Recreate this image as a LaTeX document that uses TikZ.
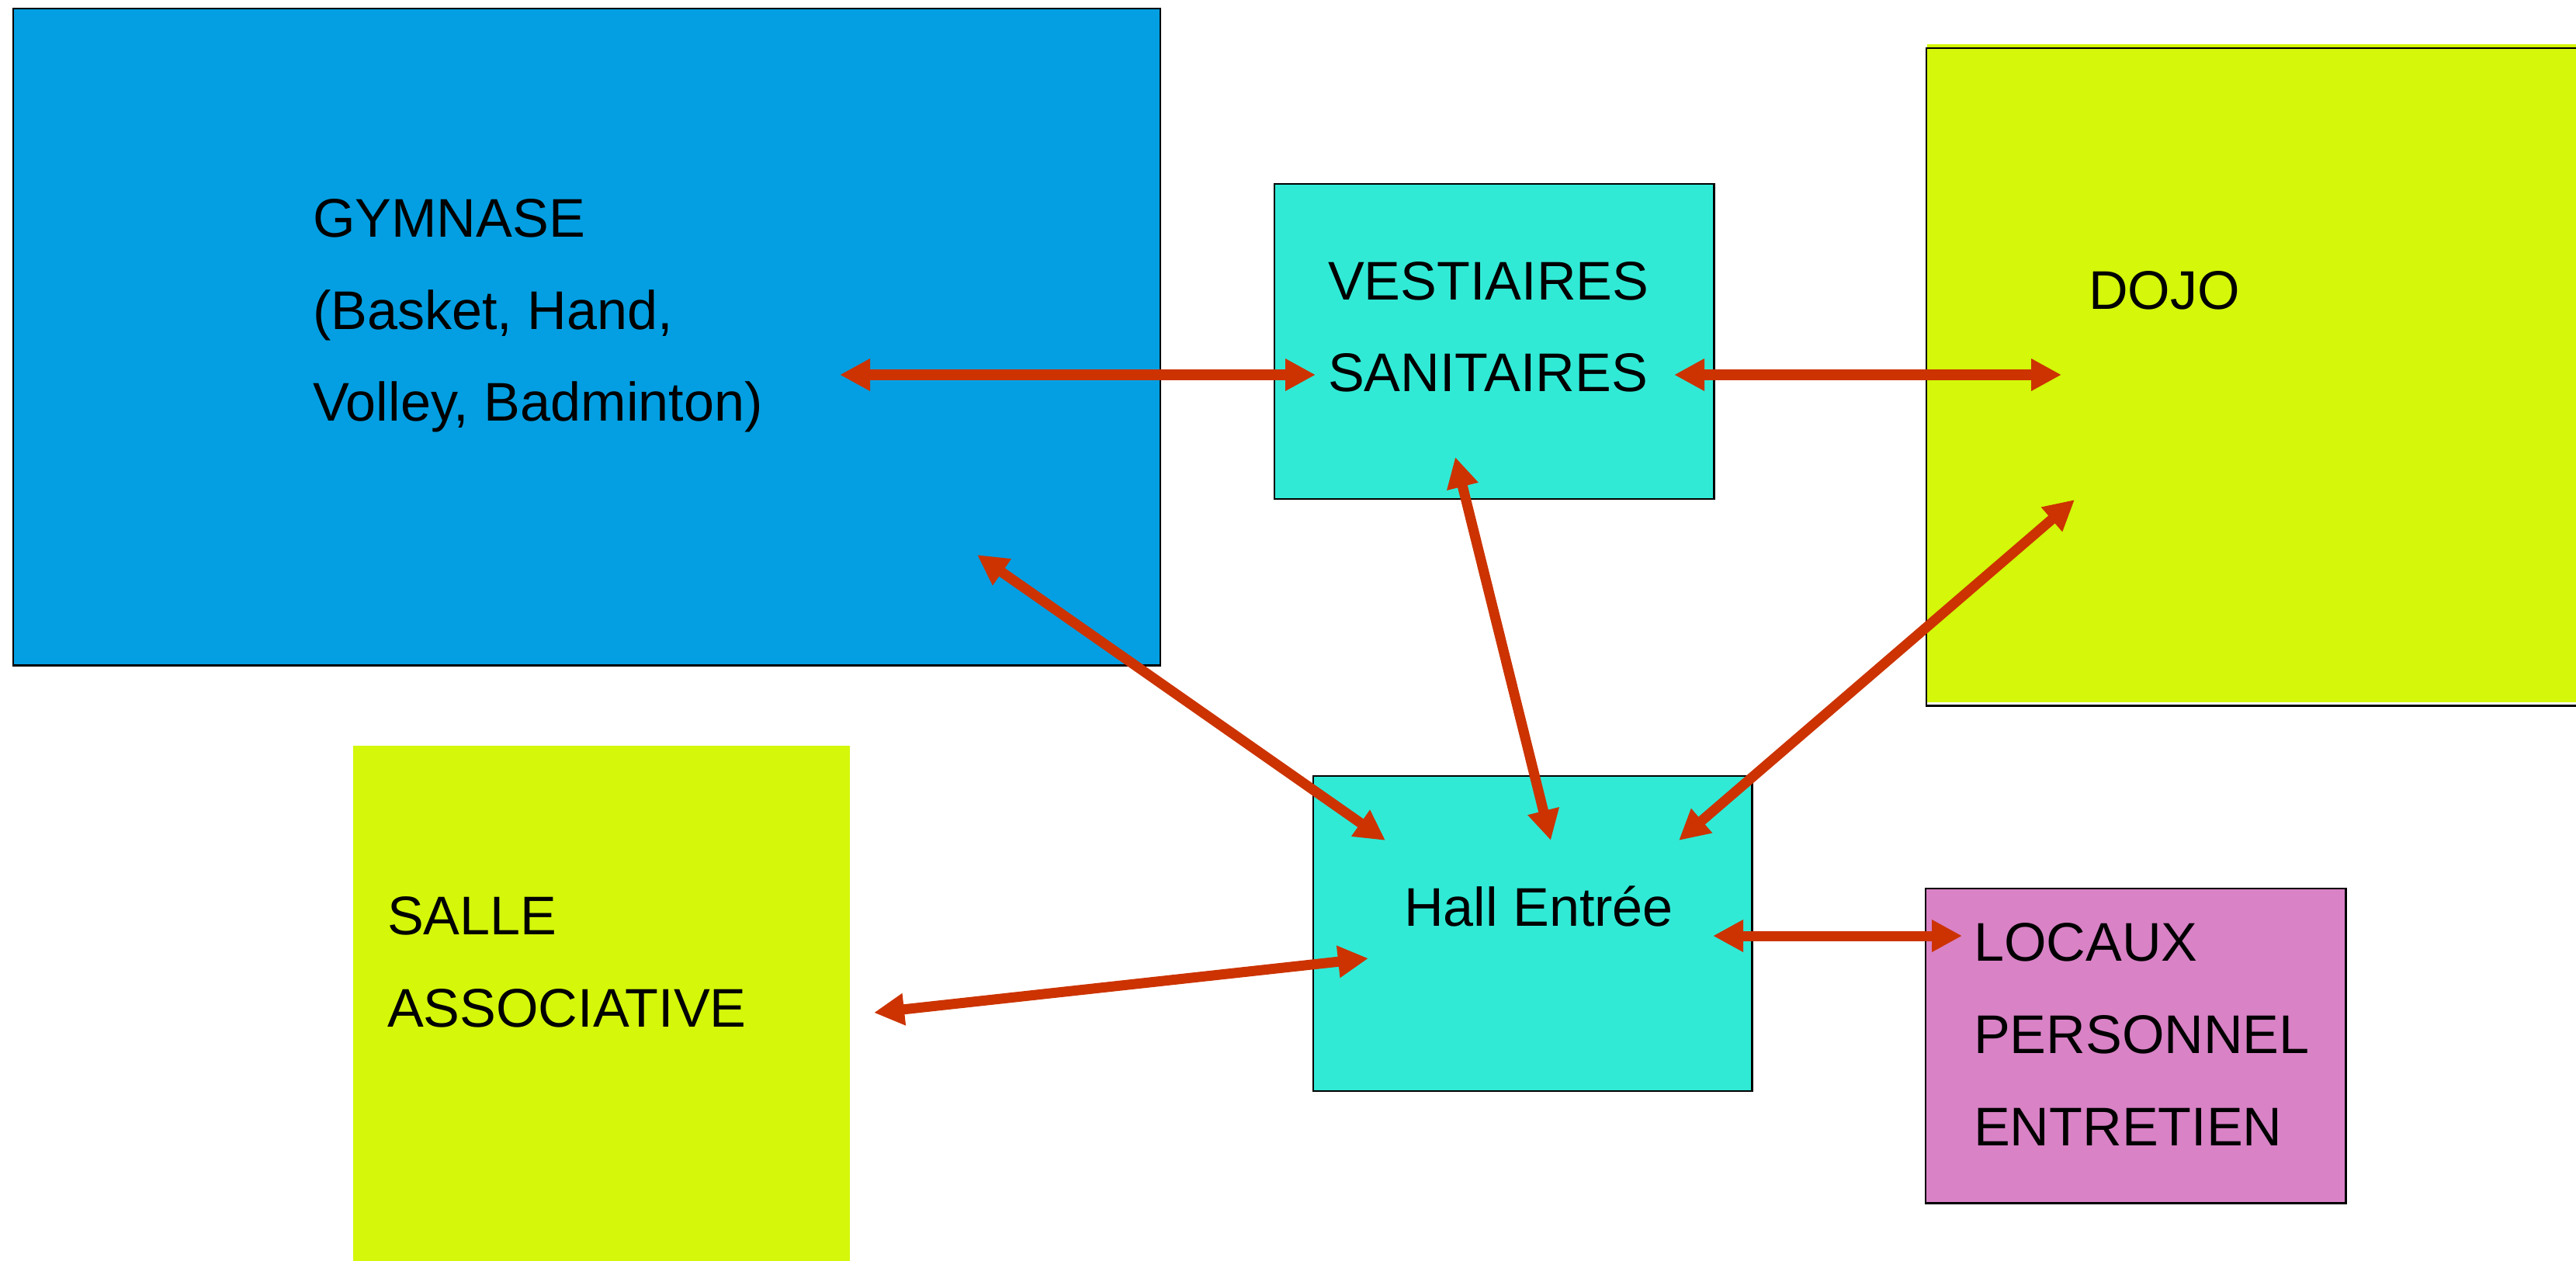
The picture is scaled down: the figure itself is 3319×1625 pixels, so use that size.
\documentclass[tikz,border=0pt]{standalone}
\usepackage{fontspec}
\setmainfont{Liberation Sans}
\usetikzlibrary{arrows.meta}
\definecolor{gymblue}{RGB}{3,159,226}
\definecolor{turq}{RGB}{48,234,214}
\definecolor{limey}{RGB}{212,247,10}
\definecolor{pinkish}{RGB}{217,130,198}
\definecolor{arrowred}{RGB}{204,51,0}
\begin{document}
\begin{tikzpicture}[x=0.01cm,y=-0.01cm,
  room/.style={draw=black, line width=0.025cm, inner sep=0pt, outer sep=0pt, anchor=north west},
  lbl/.style={anchor=base west, inner sep=0pt, outer sep=0pt, font=\fontsize{19.95}{33.7}\selectfont},
  link/.style={draw=arrowred, line width=0.13cm,
    {Triangle[length=0.39cm,width=0.39cm]}-{Triangle[length=0.39cm,width=0.39cm]}}]
\useasboundingbox[fill=white] (0,0) rectangle (3319,1625);

% rooms
\node[room, fill=gymblue, minimum width=14.77cm, minimum height=8.46cm] (gym) at (17,11) {};
\node[room, fill=turq, minimum width=5.66cm, minimum height=4.06cm] (vest) at (1642,237) {};
\fill[limey] (2483,57) rectangle (3360,905);
\node[room, minimum width=8.78cm, minimum height=8.47cm] (dojo) at (2482,62) {};
\node[room, draw=none, fill=limey, minimum width=6.40cm, minimum height=7.0cm] (salle) at (455,961) {};
\node[room, fill=turq, minimum width=5.65cm, minimum height=4.06cm] (hall) at (1692,1000) {};
\node[room, fill=pinkish, minimum width=5.41cm, minimum height=4.05cm] (locaux) at (2481,1145) {};

% labels
\node[lbl] (gymA) at (403,306) {GYMNASE};
\node[lbl] (gymB) at (403,424.5) {(Basket, Hand,};
\node[lbl] (gymC) at (403,543) {Volley, Badminton)};
\node[lbl] (vestA) at (1711,386.5) {VESTIAIRES};
\node[lbl] (vestB) at (1711,505) {SANITAIRES};
\node[lbl] (dojoA) at (2691,399) {DOJO};
\node[lbl] (hallA) at (1809,1193) {Hall Entrée};
\node[lbl] (salleA) at (499,1204) {SALLE};
\node[lbl] (salleB) at (499,1323) {ASSOCIATIVE};
\node[lbl] (locA) at (2543,1238.5) {LOCAUX};
\node[lbl] (locB) at (2543,1357) {PERSONNEL};
\node[lbl] (locC) at (2543,1476) {ENTRETIEN};

% connector end points
\coordinate (gymE) at (1082,483);
\coordinate (vestW) at (1695,483);
\coordinate (vestE) at (2157,483);
\coordinate (dojoW) at (2656,483);
\coordinate (gymS) at (1259,715);
\coordinate (hallNW) at (1785,1083);
\coordinate (vestS) at (1875,589);
\coordinate (hallN) at (1998,1083);
\coordinate (dojoS) at (2673,644);
\coordinate (hallNE) at (2163,1083);
\coordinate (salleE) at (1126,1305);
\coordinate (hallW) at (1763,1235);
\coordinate (hallE) at (2207,1206);
\coordinate (locW) at (2528,1206);

% connectors
\draw[link] (gymE) -- (vestW);
\draw[link] (vestE) -- (dojoW);
\draw[link] (gymS) -- (hallNW);
\draw[link] (vestS) -- (hallN);
\draw[link] (dojoS) -- (hallNE);
\draw[link] (salleE) -- (hallW);
\draw[link] (hallE) -- (locW);
\end{tikzpicture}
\end{document}
